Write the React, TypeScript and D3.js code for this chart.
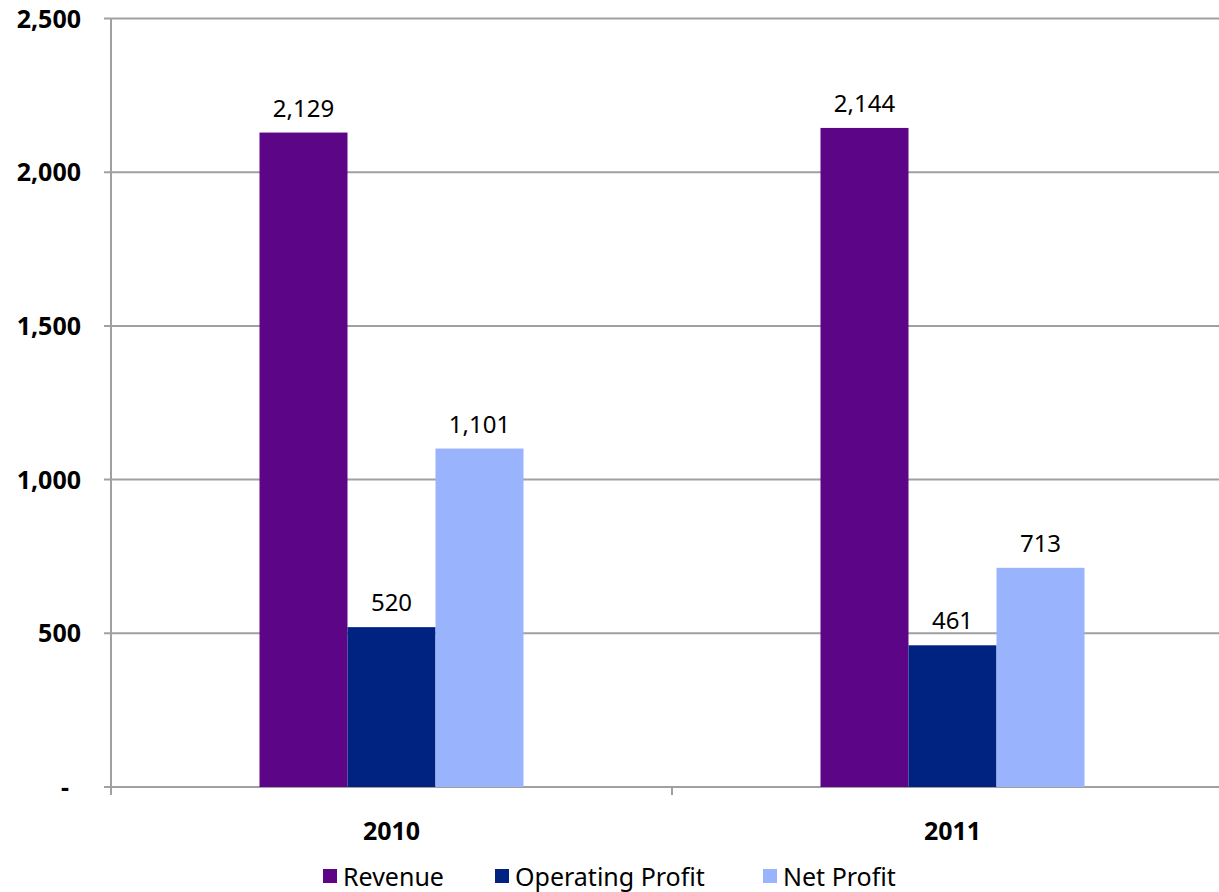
import React from "react";
import * as d3 from "d3";

const categories = ["2010", "2011"];
const seriesNames = ["Revenue", "Operating Profit", "Net Profit"];
const revenue = [2129, 2144];
const operatingProfit = [520, 461];
const netProfit = [1101, 713];
const yTicks = [0, 500, 1000, 1500, 2000, 2500];
const colors = ["#5C0587", "#002280", "#99B3FC"];

const W = 1219;
const H = 892;
const FONT = "'Noto Sans', 'DejaVu Sans', sans-serif";

export default function App() {
  const left = 111;
  const right = 1233;
  const top = 18.5;
  const bottom = 787;
  const x = d3.scaleBand<string>().domain(categories).range([left, right]);
  const y = d3.scaleLinear().domain([0, 2500]).range([bottom, top]);
  const barW = 88;
  const inner = d3
    .scaleBand<string>()
    .domain(seriesNames)
    .range([0, barW * 3]);
  const series = [revenue, operatingProfit, netProfit];
  const fmt = d3.format(",");

  const legendX = [323, 495, 763];

  return (
    <svg width={W} height={H} style={{ position: "absolute", left: 0, top: 0, background: "#fff" }}>
      {yTicks.map((t) => (
        <g key={t}>
          <line x1={104} x2={W} y1={y(t)} y2={y(t)} stroke="#a0a0a0" strokeWidth={2} />
          <text
            x={t === 0 ? 69 : 81}
            y={y(t)}
            dy="0.36em"
            textAnchor="end"
            fontFamily={FONT}
            fontWeight="bold"
            fontSize={25}
            fill="#000"
          >
            {t === 0 ? "-" : fmt(t)}
          </text>
        </g>
      ))}
      <line x1={left} x2={left} y1={top} y2={bottom + 8} stroke="#a0a0a0" strokeWidth={2} />
      <line x1={x("2011")!} x2={x("2011")!} y1={bottom} y2={bottom + 8} stroke="#a0a0a0" strokeWidth={2} />
      {categories.map((c, ci) => {
        const cx = x(c)! + x.bandwidth() / 2;
        const start = cx - (barW * 3) / 2;
        return (
          <g key={c}>
            {series.map((s, si) => {
              const bx = start + inner(seriesNames[si])!;
              return (
                <g key={si}>
                  <rect
                    x={bx}
                    y={y(s[ci])}
                    width={inner.bandwidth()}
                    height={bottom - y(s[ci])}
                    fill={colors[si]}
                  />
                  <text
                    x={bx + inner.bandwidth() / 2}
                    y={y(s[ci]) - 16}
                    textAnchor="middle"
                    fontFamily={FONT}
                    fontSize={24}
                    fill="#000"
                  >
                    {fmt(s[ci])}
                  </text>
                </g>
              );
            })}
            <text
              x={cx}
              y={840}
              textAnchor="middle"
              fontFamily={FONT}
              fontWeight="bold"
              fontSize={25}
              fill="#000"
            >
              {c}
            </text>
          </g>
        );
      })}
      {seriesNames.map((n, i) => (
        <g key={n}>
          <rect x={legendX[i]} y={869} width={14} height={14} fill={colors[i]} />
          <text x={legendX[i] + 20} y={886} fontFamily={FONT} fontSize={25} fill="#000">
            {n}
          </text>
        </g>
      ))}
    </svg>
  );
}
